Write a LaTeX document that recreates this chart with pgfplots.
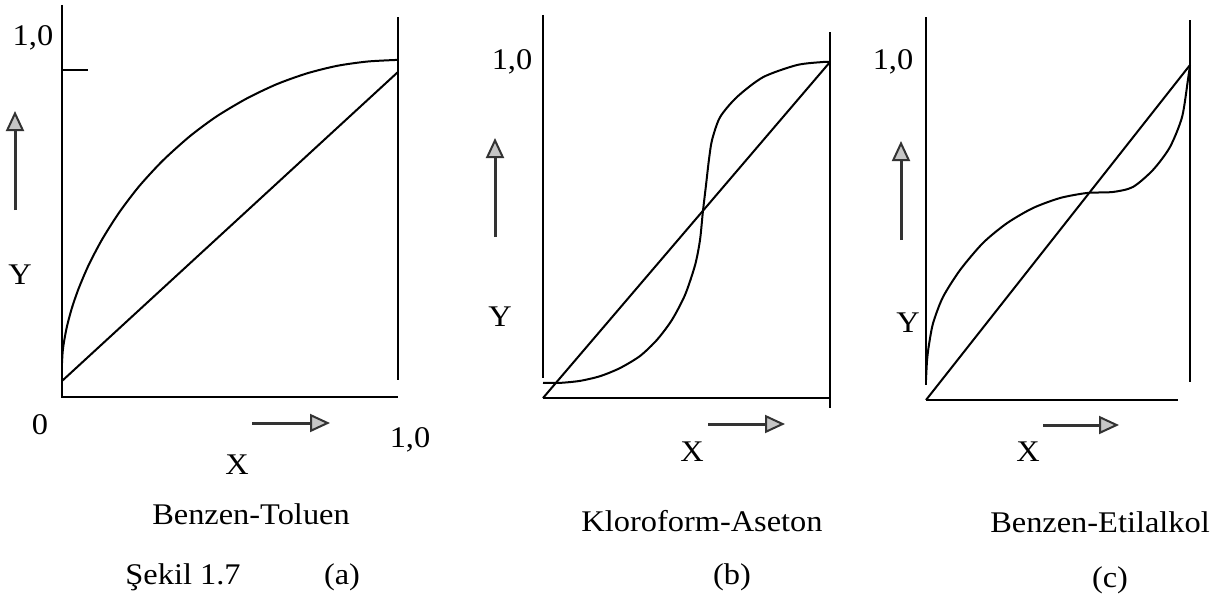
\documentclass[border=0pt]{standalone}
\usepackage{fontspec}
\setmainfont{Liberation Serif}
\usepackage{graphicx}
\usepackage{pgfplots}
\pgfplotsset{compat=1.18}
\usetikzlibrary{arrows.meta}
\newcommand\T[1]{\scalebox{1.08}[1]{#1}}
\pgfplotsset{
  panel/.style={anchor=south west, scale only axis, xmin=0, xmax=1, ymin=0, ymax=1, hide axis, clip=false},
  ln/.style={black, line width=1pt, mark=none},
  cv/.style={black, line width=1pt, mark=none, smooth, tension=0.45},
}
\begin{document}
\begin{tikzpicture}
% ---------- (a) Benzen-Toluen ----------
\begin{axis}[panel, at={(31pt,-198.5pt)}, width=168pt, height=163.5pt]
\addplot[ln] coordinates {(0,1.199) (0,0) (1,0)};
\addplot[ln] coordinates {(1,1.162) (1,0.052)};
\addplot[ln] coordinates {(0,1) (0.077,1)};
\addplot[ln] coordinates {(0,0.049) (1,0.994)};
\addplot[cv] coordinates {(0,0.104) (0.002,0.138) (0.006,0.169) (0.015,0.217) (0.03,0.274) (0.05,0.333) (0.08,0.405) (0.12,0.483) (0.17,0.564) (0.23,0.645) (0.3,0.723) (0.38,0.797) (0.46,0.858) (0.55,0.913) (0.64,0.957) (0.73,0.990) (0.82,1.013) (0.91,1.026) (1,1.031)};
\end{axis}
% ---------- (b) Kloroform-Aseton ----------
\begin{axis}[panel, at={(271.5pt,-199pt)}, width=143.5pt, height=168pt]
\addplot[ln] coordinates {(0,1.140) (0,0.060)};
\addplot[ln] coordinates {(0,0) (1,0)};
\addplot[ln] coordinates {(1,1.089) (1,-0.030)};
\addplot[ln] coordinates {(0,0) (1,1)};
\addplot[cv] coordinates {(0,0.045) (0.059,0.045) (0.129,0.051) (0.199,0.065) (0.268,0.089) (0.338,0.125) (0.397,0.173) (0.449,0.232) (0.495,0.307) (0.530,0.396) (0.547,0.470) (0.557,0.554) (0.568,0.634) (0.578,0.708) (0.589,0.768) (0.617,0.836) (0.676,0.896) (0.767,0.955) (0.885,0.991) (0.976,1.0) (1,1.0)};
\end{axis}
% ---------- (c) Benzen-Etilalkol ----------
\begin{axis}[panel, at={(463pt,-200pt)}, width=132pt, height=167.5pt]
\addplot[ln] coordinates {(0,1.143) (0,0.045)};
\addplot[ln] coordinates {(0,0) (0.955,0)};
\addplot[ln] coordinates {(1,1.134) (1,0.054)};
\addplot[ln] coordinates {(0,0) (1,1)};
\addplot[cv] coordinates {(0,0.060) (0.004,0.119) (0.011,0.164) (0.027,0.230) (0.064,0.307) (0.129,0.388) (0.216,0.469) (0.307,0.528) (0.405,0.573) (0.508,0.603) (0.610,0.618) (0.708,0.621) (0.784,0.636) (0.860,0.687) (0.924,0.755) (0.970,0.845) (0.992,0.955) (1,1.0)};
\end{axis}
% ---------- labels and arrows (pixel coordinates, y downwards) ----------
\begin{scope}[x=0.5pt, y=-0.5pt, every node/.style={font=\fontsize{15pt}{18pt}\selectfont, inner sep=0pt}]
\tikzset{arr/.style={line width=1.5pt, black!80, -{Triangle[length=10pt, width=9pt, fill=gray!45, line width=1pt]}}}
% (a)
\draw[arr] (15,210) -- (15,111);
\draw[arr] (252,423) -- (330,423);
\node at (33,38) {\T{1,0}};
\node at (40,425) {\T{0}};
\node at (410,440) {\T{1,0}};
\node at (237,465) {\T{X}};
\node at (20,275) {\T{Y}};
\node at (251,514) {\T{Benzen-Toluen}};
\node at (183,577) {\T{Şekil 1.7}};
\node at (342,577) {\T{(a)}};
% (b)
\draw[arr] (495,237) -- (495,138);
\draw[arr] (708,424) -- (785,424);
\node at (512,62) {\T{1,0}};
\node at (500,317) {\T{Y}};
\node at (692,452) {\T{X}};
\node at (702,521) {\T{Kloroform-Aseton}};
\node at (732,577) {\T{(b)}};
% (c)
\draw[arr] (901,240) -- (901,141);
\draw[arr] (1043,425) -- (1119,425);
\node at (893,62) {\T{1,0}};
\node at (908,323) {\T{Y}};
\node at (1028,452) {\T{X}};
\node at (1100,522) {\T{Benzen-Etilalkol}};
\node at (1110,580) {\T{(c)}};
\end{scope}
\pgfresetboundingbox
\path (0pt,0pt) rectangle (612pt,-300pt);
\end{tikzpicture}
\end{document}
